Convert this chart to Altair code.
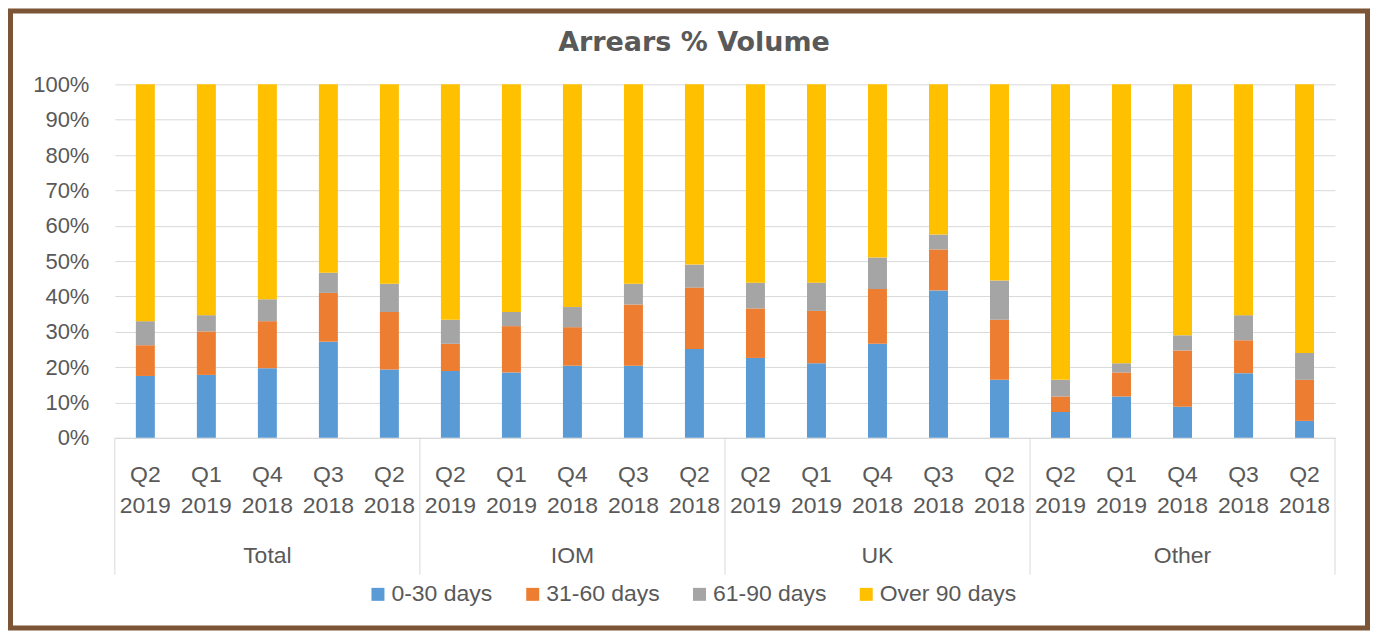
import altair as alt
import pandas as pd

groups = ["Total", "IOM", "UK", "Other"]
quarters = ["Q2 2019", "Q1 2019", "Q4 2018", "Q3 2018", "Q2 2018"]
buckets = ["0-30 days", "31-60 days", "61-90 days", "Over 90 days"]
colors = ["#5B9BD5", "#ED7D31", "#A5A5A5", "#FFC000"]

d0_30 = [17.5, 17.8, 19.7, 27.2, 19.3, 18.9, 18.5, 20.4, 20.4, 25.1,
         22.6, 21.1, 26.6, 41.7, 16.4, 7.3, 11.7, 8.8, 18.3, 4.8]
d31_60 = [8.7, 12.3, 13.3, 13.8, 16.3, 7.7, 13.1, 10.9, 17.3, 17.4,
          14.0, 14.8, 15.5, 11.6, 17.0, 4.4, 6.8, 15.9, 9.3, 11.6]
d61_90 = [6.8, 4.6, 6.2, 5.7, 8.0, 6.8, 4.0, 5.7, 5.9, 6.5,
          7.3, 8.0, 8.9, 4.2, 11.1, 4.7, 2.6, 4.3, 7.1, 7.6]
over90 = [67.0, 65.3, 60.8, 53.3, 56.4, 66.6, 64.4, 63.0, 56.4, 51.0,
          56.1, 56.1, 49.0, 42.5, 55.5, 83.6, 78.9, 71.0, 65.3, 76.0]

FONT = "Liberation Sans"
TXT = "#595959"
GRID = "#d9d9d9"
W, H = 1222, 354

series = [d0_30, d31_60, d61_90, over90]
keys = [g + "|" + q for g in groups for q in quarters]

rows = []
for bi, (b, vals) in enumerate(zip(buckets, series)):
    for k, v in zip(keys, vals):
        rows.append({"key": k, "bucket": b, "order": bi, "value": v})
df = pd.DataFrame(rows)

lab = pd.DataFrame({"key": keys,
                    "qlabel": [q.replace(" ", "\n") for g in groups for q in quarters]})
grp = pd.DataFrame({"key": [g + "|" + quarters[2] for g in groups], "group": groups})
sep_start = pd.DataFrame({"key": [g + "|" + quarters[0] for g in groups]})
sep_end = pd.DataFrame({"key": [keys[-1]]})

xscale = alt.Scale(paddingInner=0, paddingOuter=0)

bars = alt.Chart(df).mark_bar(size=19).encode(
    x=alt.X("key:N", sort=keys, scale=xscale,
            axis=alt.Axis(labels=False, ticks=False, domain=True, domainColor=GRID,
                          grid=False, title=None)),
    y=alt.Y("value:Q", stack="zero", scale=alt.Scale(domain=[0, 100], nice=False),
            axis=alt.Axis(values=list(range(0, 101, 10)), labelExpr="datum.value + '%'",
                          grid=True, gridColor=GRID, domain=False, ticks=False,
                          labelPadding=26, labelFontSize=22, labelColor=TXT,
                          labelFont=FONT, title=None)),
    color=alt.Color("bucket:N", sort=buckets,
                    scale=alt.Scale(domain=buckets, range=colors),
                    legend=alt.Legend(orient="none", legendX=252, legendY=499,
                                      direction="horizontal", title=None,
                                      symbolType="square", symbolSize=169,
                                      symbolStrokeWidth=0, labelOffset=2,
                                      columnPadding=28, padding=0,
                                      labelFontSize=23, labelFont=FONT,
                                      labelColor=TXT)),
    order=alt.Order("order:Q", sort="ascending"),
)

qtext = alt.Chart(lab).mark_text(
    lineBreak="\n", fontSize=23, font=FONT, color=TXT, baseline="alphabetic",
    lineHeight=31, align="center"
).encode(x=alt.X("key:N", sort=keys, scale=xscale), y=alt.value(398), text="qlabel:N")

gtext = alt.Chart(grp).mark_text(
    fontSize=23, font=FONT, color=TXT, baseline="alphabetic", align="center"
).encode(x=alt.X("key:N", sort=keys, scale=xscale), y=alt.value(479), text="group:N")

rule1 = alt.Chart(sep_start).mark_rule(color=GRID, strokeWidth=1).encode(
    x=alt.X("key:N", sort=keys, scale=xscale, bandPosition=0),
    y=alt.value(H), y2=alt.value(491))
rule2 = alt.Chart(sep_end).mark_rule(color=GRID, strokeWidth=1).encode(
    x=alt.X("key:N", sort=keys, scale=xscale, bandPosition=1),
    y=alt.value(H), y2=alt.value(491))

title = alt.Chart(pd.DataFrame({"t": ["Arrears % Volume"]})).mark_text(
    font="DejaVu Sans", fontWeight="bold", fontSize=27, color=TXT,
    baseline="alphabetic", align="center"
).encode(x=alt.value(580), y=alt.value(-33), text="t:N")

border = alt.Chart(pd.DataFrame({"a": [0]})).mark_rect(
    filled=False, stroke="#7B5535", strokeWidth=5
).encode(x=alt.value(-104.5), x2=alt.value(1254.5), y=alt.value(-73.5), y2=alt.value(544.5))

chart = alt.layer(bars, qtext, gtext, rule1, rule2, title, border).properties(
    width=W, height=H,
    autosize=alt.AutoSizeParams(type="none"),
    padding={"left": 107, "top": 76, "right": 35, "bottom": 193},
    background="white",
).configure_view(stroke=None)

chart.save("out.html", embed_options={"renderer": "svg", "actions": False})
